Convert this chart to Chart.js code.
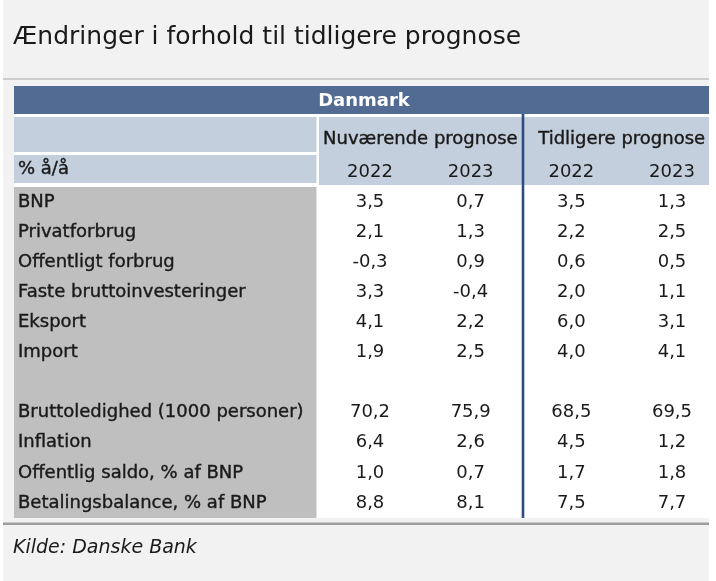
<!DOCTYPE html>
<html>
<head>
<meta charset="utf-8">
<script src="https://cdn.jsdelivr.net/npm/chart.js@4.4.1/dist/chart.umd.min.js"></script>
<style>
    html, body { margin: 0; padding: 0; background: #ffffff; }
    canvas { display: block; }
</style>
</head>
<body>
<canvas id="table-chart" width="716" height="581"></canvas>
<script>
const titleText = 'Ændringer i forhold til tidligere prognose';
const sourceText = 'Kilde: Danske Bank';
const regionLabel = 'Danmark';
const unitLabel = '% å/å';
const groupLabels = ['Nuværende prognose', 'Tidligere prognose'];
const columnLabels = ['2022', '2023', '2022', '2023'];
const rowLabels = [
    'BNP',
    'Privatforbrug',
    'Offentligt forbrug',
    'Faste bruttoinvesteringer',
    'Eksport',
    'Import',
    '',
    'Bruttoledighed (1000 personer)',
    'Inflation',
    'Offentlig saldo, % af BNP',
    'Betalingsbalance, % af BNP'
];
const current2022 = [3.5, 2.1, -0.3, 3.3, 4.1, 1.9, null, 70.2, 6.4, 1.0, 8.8];
const current2023 = [0.7, 1.3, 0.9, -0.4, 2.2, 2.5, null, 75.9, 2.6, 0.7, 8.1];
const previous2022 = [3.5, 2.2, 0.6, 2.0, 6.0, 4.0, null, 68.5, 4.5, 1.7, 7.5];
const previous2023 = [1.3, 2.5, 0.5, 1.1, 3.1, 4.1, null, 69.5, 1.2, 1.8, 7.7];

const columns = [current2022, current2023, previous2022, previous2023];

const textColor = '#1a1a1a';
const fontFamily = 'DejaVu Sans';
const strokeW = 0.4;

function formatValue(v) {
    return v.toFixed(1).replace('.', ',');
}

// draw text slightly heavier, like the medium weight of the original
function heavyText(ctx, text, x, y) {
    ctx.fillText(text, x, y);
    ctx.strokeText(text, x, y);
}

// one scatter dataset per column, one point per row
const datasets = columns.map((values, col) => ({
    label: columnLabels[col],
    data: values
        .map((v, row) => (v === null ? null : { x: col, y: rowLabels[row], v: v }))
        .filter(p => p !== null),
    pointRadius: 0,
    pointHoverRadius: 0,
    showLine: false
}));

const tableDecor = {
    id: 'tableDecor',
    beforeDraw(chart) {
        const ctx = chart.ctx;
        const area = chart.chartArea;
        const xScale = chart.scales.x;
        const tableLeft = 14;
        const tableRight = area.right + 37;
        const labelRight = 316.5;
        const valueLeft = 319;

        ctx.save();
        // page background
        ctx.fillStyle = '#f2f2f2';
        ctx.fillRect(3, 0, tableRight - 3, chart.height);

        // separator under title
        ctx.fillStyle = '#a8a8a8';
        ctx.fillRect(3, 78.5, tableRight - 3, 1);

        // table body background
        ctx.fillStyle = '#ffffff';
        ctx.fillRect(tableLeft, 114, tableRight - tableLeft, area.bottom - 114);

        // Danmark band
        ctx.fillStyle = '#526b93';
        ctx.fillRect(tableLeft, 86, tableRight - tableLeft, 28);

        // header blocks
        ctx.fillStyle = '#c4cfdd';
        ctx.fillRect(tableLeft, 117, labelRight - tableLeft, 35);
        ctx.fillRect(tableLeft, 155, labelRight - tableLeft, 28);
        ctx.fillRect(valueLeft, 117, tableRight - valueLeft, area.top - 2 - 117);

        // row label column
        ctx.fillStyle = '#bfbfbf';
        ctx.fillRect(tableLeft, area.top, labelRight - tableLeft, area.bottom - area.top);

        // separator between forecasts
        const splitX = (xScale.getPixelForValue(1) + xScale.getPixelForValue(2)) / 2 + 2;
        ctx.fillStyle = '#2f4c82';
        ctx.fillRect(splitX - 1.3, 114, 2.6, area.bottom - 114);

        // bottom rule
        ctx.fillStyle = '#9e9e9e';
        ctx.fillRect(3, area.bottom + 4.5, tableRight - 3, 2.5);
        ctx.restore();
    },
    afterDatasetsDraw(chart) {
        const ctx = chart.ctx;
        ctx.save();
        ctx.font = `18px "${fontFamily}"`;
        ctx.fillStyle = textColor;
        ctx.textAlign = 'center';
        ctx.textBaseline = 'middle';
        chart.data.datasets.forEach((ds, i) => {
            const meta = chart.getDatasetMeta(i);
            meta.data.forEach((el, j) => {
                ctx.fillText(formatValue(ds.data[j].v), el.x, el.y);
            });
        });
        ctx.restore();
    },
    afterDraw(chart) {
        const ctx = chart.ctx;
        const xScale = chart.scales.x;
        ctx.save();

        ctx.fillStyle = textColor;
        ctx.strokeStyle = textColor;
        ctx.textAlign = 'left';
        ctx.textBaseline = 'alphabetic';
        ctx.font = `25px "${fontFamily}"`;
        ctx.fillText(titleText, 13, 44);

        ctx.font = `italic 19px "${fontFamily}"`;
        ctx.fillText(sourceText, 13, 553);

        ctx.lineWidth = strokeW;
        ctx.textBaseline = 'middle';
        ctx.font = `18px "${fontFamily}"`;
        heavyText(ctx, unitLabel, 18, 169);

        ctx.textAlign = 'center';
        groupLabels.forEach((label, g) => {
            const x = (xScale.getPixelForValue(g * 2) + xScale.getPixelForValue(g * 2 + 1)) / 2;
            heavyText(ctx, label, x, 139.5);
        });

        ctx.fillStyle = '#ffffff';
        ctx.font = `bold 18px "${fontFamily}"`;
        ctx.fillText(regionLabel, 364, 101.5);
        ctx.restore();
    }
};

Chart.defaults.font.family = fontFamily;

new Chart(document.getElementById('table-chart'), {
    type: 'scatter',
    data: { datasets: datasets },
    plugins: [tableDecor],
    options: {
        responsive: false,
        animation: false,
        layout: {
            padding: { left: 18, top: 150, right: 44, bottom: 63 }
        },
        plugins: {
            legend: { display: false },
            tooltip: { enabled: false },
            title: { display: false }
        },
        scales: {
            x: {
                type: 'linear',
                position: 'top',
                min: 0,
                max: columnLabels.length - 1,
                grid: { display: false, drawTicks: false },
                border: { display: false },
                ticks: {
                    stepSize: 1,
                    autoSkip: false,
                    maxRotation: 0,
                    padding: 4,
                    color: textColor,
                    font: { size: 18 },
                    callback: (value) => columnLabels[value]
                },
                afterFit: (scale) => { scale.height = 37; }
            },
            y: {
                type: 'category',
                labels: rowLabels,
                offset: true,
                grid: { display: false, drawTicks: false },
                border: { display: false },
                ticks: {
                    autoSkip: false,
                    crossAlign: 'far',
                    padding: 0,
                    color: textColor,
                    textStrokeColor: textColor,
                    textStrokeWidth: strokeW,
                    font: { size: 18 }
                },
                afterFit: (scale) => { scale.width = 352; }
            }
        }
    }
});
</script>
</body>
</html>
